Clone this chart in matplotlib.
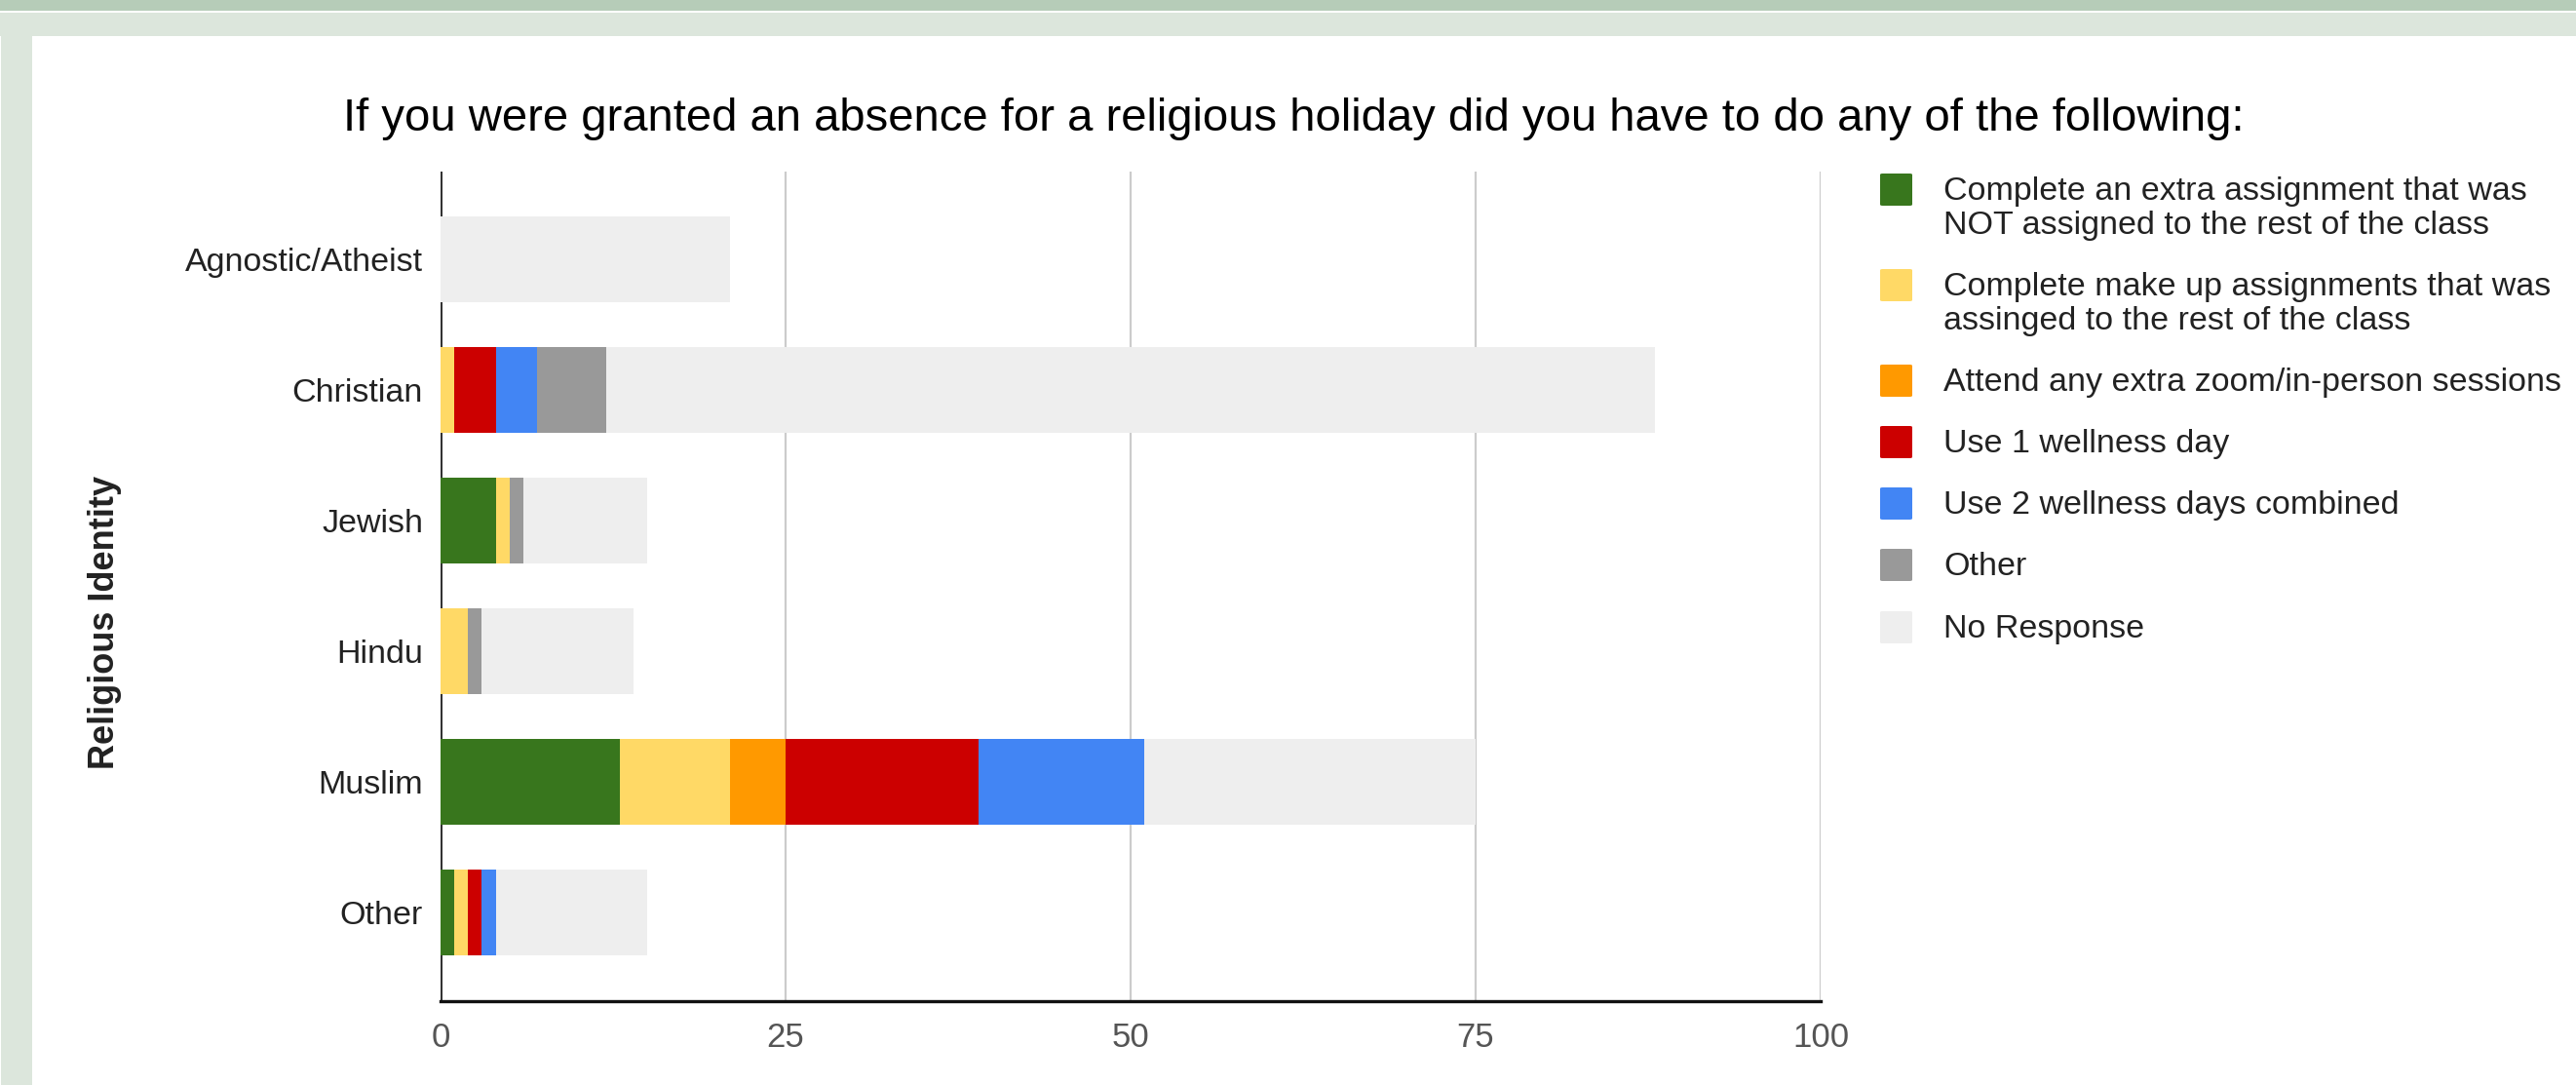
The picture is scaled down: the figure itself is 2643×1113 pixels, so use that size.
import numpy as np
import matplotlib.pyplot as plt
from matplotlib.patches import Rectangle, FancyBboxPatch

plt.rcParams['font.family'] = ['Liberation Sans', 'DejaVu Sans']

# data
religions = ["Agnostic/Atheist", "Christian", "Jewish", "Hindu", "Muslim", "Other"]
series_names = [
    "Complete an extra assignment that was\nNOT assigned to the rest of the class",
    "Complete make up assignments that was\nassinged to the rest of the class",
    "Attend any extra zoom/in-person sessions",
    "Use 1 wellness day",
    "Use 2 wellness days combined",
    "Other",
    "No Response",
]
extra_assignment = [0, 0, 4, 0, 13, 1]
make_up = [0, 1, 1, 2, 8, 1]
extra_sessions = [0, 0, 0, 0, 4, 0]
one_day = [0, 3, 0, 0, 14, 1]
two_days = [0, 3, 0, 0, 12, 1]
other = [0, 5, 1, 1, 0, 0]
no_response = [21, 76, 9, 11, 24, 11]
x_ticks = [0, 25, 50, 75, 100]

colors = ["#38761d", "#ffd966", "#ff9900", "#cc0000", "#4285f4", "#999999", "#eeeeee"]

W, H = 2643, 1113
fig = plt.figure(figsize=(W / 100, H / 100), dpi=100)
fig.patch.set_facecolor("white")


def fx(x):
    return x / W


def fy(y):
    return 1 - y / H


# slide-like border
fig.add_artist(Rectangle((0, fy(11)), 1, 11 / H, transform=fig.transFigure,
                         facecolor="#b6ccb8", edgecolor="none", zorder=0))
fig.add_artist(Rectangle((0, fy(37)), 1, 24 / H, transform=fig.transFigure,
                         facecolor="#dce6dc", edgecolor="none", zorder=0))
fig.add_artist(Rectangle((fx(1), 0), 32 / W, fy(13), transform=fig.transFigure,
                         facecolor="#dce6dc", edgecolor="none", zorder=0))

ax = fig.add_axes([fx(452), fy(1027), 1416 / W, 851 / H])
ax.set_facecolor("none")

y = np.arange(len(religions))
series = [extra_assignment, make_up, extra_sessions, one_day, two_days, other, no_response]
left = np.zeros(len(religions))
for vals, c in zip(series, colors):
    vals = np.array(vals, dtype=float)
    ax.barh(y, vals, left=left, height=0.65, color=c, edgecolor="none", zorder=3)
    left += vals

ax.set_xlim(0, 100)
ax.set_ylim(5.679, -0.672)
ax.set_xticks(x_ticks)
ax.set_yticks(y)
ax.set_yticklabels(religions)
for xv in x_ticks[1:]:
    ax.axvline(xv, color="#cccccc", lw=1.6, zorder=1)
ax.axvline(0, color="#333333", lw=2.2, zorder=2)
for s in ["top", "right", "left"]:
    ax.spines[s].set_visible(False)
ax.spines["bottom"].set_linewidth(2.4)
ax.spines["bottom"].set_color("#111111")
ax.spines["bottom"].set_zorder(4)
ax.tick_params(axis="x", length=0, pad=15, labelsize=25, labelcolor="#555555")
ax.tick_params(axis="y", length=0, pad=13, labelsize=24.5, labelcolor="#222222")

fig.text(fx(1327), fy(134), "If you were granted an absence for a religious holiday did you have to do any of the following:",
         ha="center", va="baseline", fontsize=34, color="#000000")
fig.text(fx(108), fy(638), "Religious Identity", rotation=90, ha="center", va="center",
         fontsize=26, fontweight="bold", color="#222222")

# legend drawn by hand so the swatch sits on the first line
sq_tops = [177, 275, 373, 436, 499, 562, 626]
for name, c, top in zip(series_names, colors, sq_tops):
    fig.add_artist(FancyBboxPatch((fx(1929), fy(top + 34)), 33 / W, 33 / H,
                                  boxstyle="round,pad=0,rounding_size=0.001",
                                  transform=fig.transFigure, facecolor=c, edgecolor="none"))
    for i, line in enumerate(name.split("\n")):
        fig.text(fx(1994), fy(top + 28 + 35 * i), line, ha="left", va="baseline",
                 fontsize=24.5, color="#222222")

fig.savefig("out.png", dpi=100)
